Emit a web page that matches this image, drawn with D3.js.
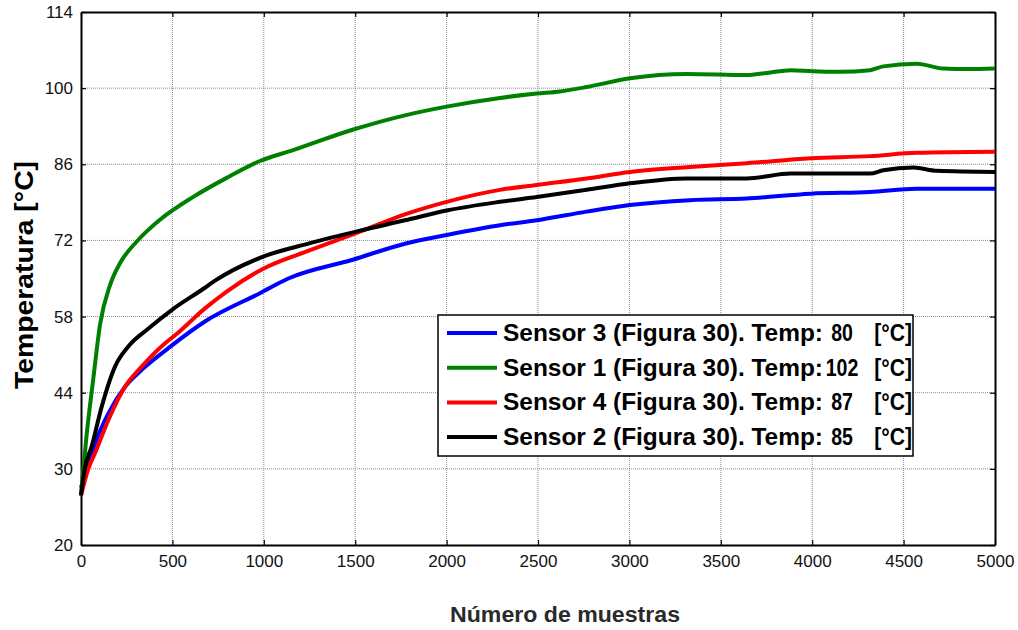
<html>
<head>
<meta charset="utf-8">
<script src="https://d3js.org/d3.v7.min.js"></script>
<style>
    body { margin: 0; background: #fff; }
    text { font-family: "Liberation Sans", Arial, sans-serif; }
    .grid line { stroke: #8a8a8a; stroke-width: 1; stroke-dasharray: 1, 1; }
</style>
</head>
<body>
<div id="chart"></div>
<script>
// data (sample index, temperature in axis label units)
var xTicks = [0, 500, 1000, 1500, 2000, 2500, 3000, 3500, 4000, 4500, 5000];
var yTicks = [20, 30, 44, 58, 72, 86, 100, 114];

var s3n = [0, 40, 77, 150, 241, 332, 478, 678, 979, 1134, 1481, 1772, 2000, 2292, 2493, 2766, 3003, 3331, 3642, 3993, 4316, 4571, 5000];
var s3v = [27.5, 31, 34.7, 40.2, 45.1, 48.2, 52.2, 57.1, 62.3, 65.0, 68.4, 71.4, 73.0, 74.8, 75.7, 77.3, 78.5, 79.4, 79.7, 80.6, 80.9, 81.5, 81.5];

var s1n = [0, 30, 67, 104, 159, 213, 305, 432, 614, 797, 979, 1160, 1481, 1772, 2000, 2292, 2493, 2620, 2766, 3003, 3313, 3642, 3751, 3884, 4000, 4152, 4316, 4389, 4571, 4717, 4850, 5000];
var s1v = [26.5, 36, 46.5, 56.5, 63.8, 67.8, 71.8, 75.8, 80.0, 83.5, 86.6, 88.6, 92.3, 95.0, 96.6, 98.2, 99.0, 99.4, 100.2, 101.8, 102.6, 102.4, 102.8, 103.3, 103.1, 103.0, 103.3, 104.0, 104.5, 103.6, 103.5, 103.6];

var s4n = [0, 40, 77, 150, 241, 332, 460, 523, 678, 797, 997, 1253, 1526, 1772, 2000, 2292, 2493, 2766, 3003, 3331, 3642, 3993, 4316, 4571, 5000];
var s4v = [26.5, 30, 32.9, 39.0, 45.1, 48.8, 53.1, 54.8, 59.5, 62.6, 66.8, 70.2, 73.6, 76.8, 79.1, 81.3, 82.2, 83.4, 84.6, 85.5, 86.2, 87.1, 87.5, 88.1, 88.3];

var s2n = [0, 20, 58, 113, 186, 259, 369, 496, 678, 733, 979, 1253, 1526, 1772, 2000, 2292, 2493, 2766, 3003, 3313, 3642, 3884, 4316, 4389, 4554, 4682, 5000];
var s2v = [26.5, 30, 34.1, 41.4, 48.8, 52.5, 55.8, 59.2, 63.3, 64.6, 68.8, 71.5, 73.8, 75.7, 77.5, 79.1, 80.0, 81.3, 82.5, 83.4, 83.4, 84.3, 84.3, 84.9, 85.4, 84.8, 84.6];

var seriesNames = ["Sensor 3 (Figura 30). Temp:", "Sensor 1 (Figura 30). Temp:", "Sensor 4 (Figura 30). Temp:", "Sensor 2 (Figura 30). Temp:"];
var seriesTemps = ["80", "102", "87", "85"];
var seriesColors = ["#0000ff", "#008000", "#ff0000", "#000000"];

var series = [[s3n, s3v], [s1n, s1v], [s4n, s4v], [s2n, s2v]].map(function (p) {
    return p[0].map(function (n, i) { return { n: n, v: p[1][i] }; });
});

var width = 1018, height = 630;
var mLeft = 81, mRight = 995, mTop = 12, mBottom = 545;

var svg = d3.select("#chart").append("svg")
    .attr("width", width)
    .attr("height", height);

var xs = d3.scaleLinear().domain([0, 5000]).range([mLeft, mRight]);
// tick labels are evenly spaced on screen, so use a piecewise scale
var ys = d3.scaleLinear()
    .domain(yTicks)
    .range(yTicks.map(function (d, i) { return mBottom - i * (mBottom - mTop) / (yTicks.length - 1); }));

// grid
var grid = svg.append("g").attr("class", "grid");
grid.selectAll(".gx").data(xTicks.slice(1, -1)).enter().append("line")
    .attr("x1", d => xs(d)).attr("x2", d => xs(d))
    .attr("y1", mTop).attr("y2", mBottom);
grid.selectAll(".gy").data(yTicks.slice(1, -1)).enter().append("line")
    .attr("x1", mLeft).attr("x2", mRight)
    .attr("y1", d => ys(d)).attr("y2", d => ys(d));

// axes with inward ticks on all four sides
svg.append("g")
    .attr("transform", "translate(0," + mBottom + ")")
    .call(d3.axisBottom(xs).tickValues(xTicks).tickFormat(d3.format("d"))
        .tickSizeInner(-5).tickSizeOuter(0).tickPadding(10));
svg.append("g")
    .attr("transform", "translate(0," + mTop + ")")
    .call(d3.axisTop(xs).tickValues(xTicks).tickSizeInner(-5).tickSizeOuter(0).tickFormat(""));
svg.append("g")
    .attr("transform", "translate(" + mLeft + ",0)")
    .call(d3.axisLeft(ys).tickValues(yTicks).tickSizeInner(-5).tickSizeOuter(0).tickPadding(8));
svg.append("g")
    .attr("transform", "translate(" + mRight + ",0)")
    .call(d3.axisRight(ys).tickValues(yTicks).tickSizeInner(-5).tickSizeOuter(0).tickFormat(""));

svg.selectAll(".domain").attr("stroke", "#000").attr("stroke-width", 2);
svg.selectAll(".tick line").attr("stroke", "#000").attr("stroke-width", 1.2);
svg.selectAll(".tick text")
    .style("font-family", "'Liberation Sans', Arial, sans-serif")
    .style("font-size", "17px")
    .attr("fill", "#111");

// lines
var line = d3.line()
    .x(d => xs(d.n))
    .y(d => ys(d.v))
    .curve(d3.curveMonotoneX);

svg.append("g").selectAll("path").data(series).enter().append("path")
    .attr("d", line)
    .attr("fill", "none")
    .attr("stroke", (d, i) => seriesColors[i])
    .attr("stroke-width", 4)
    .attr("stroke-linejoin", "round");

// legend
var lg = svg.append("g");
lg.append("rect")
    .attr("x", 438).attr("y", 315)
    .attr("width", 475).attr("height", 141)
    .attr("fill", "#fff").attr("stroke", "#000").attr("stroke-width", 1.5);

var rows = lg.selectAll(".row").data(seriesNames).enter().append("g")
    .attr("transform", (d, i) => "translate(0," + (333 + i * 34.7) + ")");
rows.append("line")
    .attr("x1", 447).attr("x2", 497)
    .attr("stroke", (d, i) => seriesColors[i])
    .attr("stroke-width", 4);
rows.append("text")
    .attr("x", 503).attr("y", 8)
    .attr("textLength", 320).attr("lengthAdjust", "spacingAndGlyphs")
    .style("font-size", "23px").style("font-weight", "bold")
    .text(d => d);
rows.append("text")
    .attr("transform", "translate(842,8) scale(0.85,1)")
    .attr("text-anchor", "middle")
    .style("font-size", "23px").style("font-weight", "bold")
    .text((d, i) => seriesTemps[i]);
rows.append("text")
    .attr("transform", "translate(912,8) scale(0.92,1)")
    .attr("text-anchor", "end")
    .style("font-size", "23px").style("font-weight", "bold")
    .text("[°C]");

// axis labels
svg.append("text")
    .attr("transform", "translate(33,275) rotate(-90)")
    .attr("text-anchor", "middle")
    .attr("textLength", 228).attr("lengthAdjust", "spacingAndGlyphs")
    .style("font-size", "25px").style("font-weight", "bold")
    .text("Temperatura [°C]");

svg.append("text")
    .attr("x", 565).attr("y", 622)
    .attr("text-anchor", "middle")
    .attr("textLength", 230).attr("lengthAdjust", "spacingAndGlyphs")
    .attr("fill", "#2a2a2a")
    .style("font-size", "22px").style("font-weight", "bold")
    .text("Número de muestras");
</script>
</body>
</html>
